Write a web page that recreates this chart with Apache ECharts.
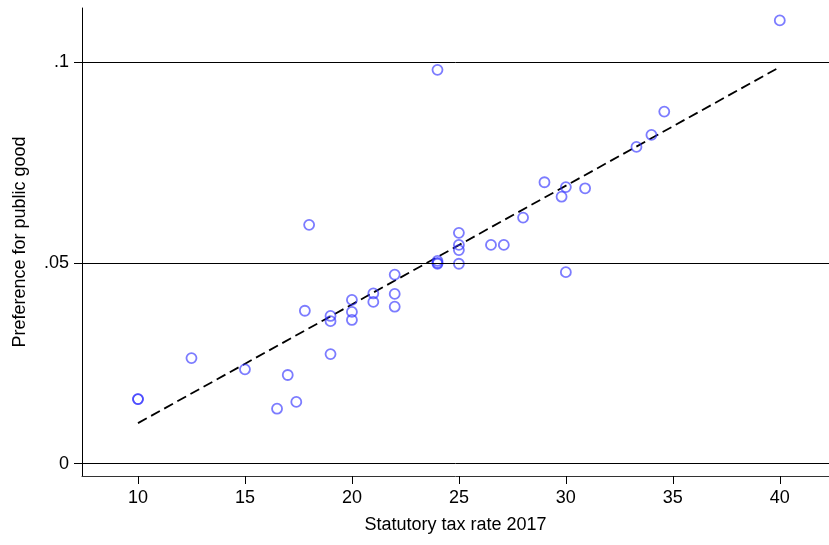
<!DOCTYPE html>
<html>
<head>
<meta charset="utf-8">
<script src="https://cdn.jsdelivr.net/npm/echarts@6/dist/echarts.min.js"></script>
<style>
html,body{margin:0;padding:0;background:#fff;}
#chart{width:829px;height:545px;}
</style>
</head>
<body>
<div id="chart"></div>
<script>
// Statutory tax rate 2017 (x) and preference for public good (y)
var taxRate = [10, 10, 12.5, 15, 16.5, 17, 17.4, 17.8, 18, 19, 19, 19, 20, 20, 20, 21, 21, 22, 22, 22,
               24, 24, 24, 24, 25, 25, 25, 25, 26.5, 27.1, 28, 29, 29.8, 30, 30, 30.9, 33.3, 34, 34.6, 40];
var preference = [0.0161, 0.0161, 0.0263, 0.0235, 0.0137, 0.0221, 0.0154, 0.0381, 0.0595, 0.0368, 0.0355, 0.0273,
                  0.0408, 0.0378, 0.0358, 0.0424, 0.0403, 0.0471, 0.0423, 0.0391,
                  0.0505, 0.0500, 0.0498, 0.0981, 0.0575, 0.0545, 0.0532, 0.0498, 0.0545, 0.0545, 0.0613,
                  0.0701, 0.0665, 0.0689, 0.0477, 0.0686, 0.0789, 0.0819, 0.0877, 0.1104];
// fitted line endpoints
var fitX = [10, 40];
var fitY = [0.0101, 0.0988];
// tick labels
var xTicks = [10, 15, 20, 25, 30, 35, 40];
var yTicks = [0, 0.05, 0.1];
var yTickLabels = ['0', '.05', '.1'];

var FONT = '"Liberation Sans", Arial, sans-serif';
var chart = echarts.init(document.getElementById('chart'), null, {renderer: 'canvas'});
var scatterData = taxRate.map(function (x, i) { return [x, preference[i]]; });
var fitData = fitX.map(function (x, i) { return [x, fitY[i]]; });

chart.setOption({
  animation: false,
  backgroundColor: '#fff',
  grid: {left: 82, top: 8, right: 0, bottom: 69, containLabel: false},
  xAxis: {
    type: 'value',
    min: 7.383, max: 42.3,
    name: 'Statutory tax rate 2017',
    nameLocation: 'middle',
    nameGap: 40,
    nameTextStyle: {fontFamily: FONT, fontSize: 18, color: '#000'},
    axisLine: {show: true, onZero: false, lineStyle: {color: '#333', width: 1}},
    axisTick: {show: true, length: 8, customValues: xTicks, lineStyle: {color: '#000'}},
    axisLabel: {customValues: xTicks, margin: 13, fontFamily: FONT, fontSize: 18, color: '#000'},
    splitLine: {show: false}
  },
  yAxis: {
    type: 'value',
    min: -0.00306, max: 0.1135,
    name: 'Preference for public good',
    nameLocation: 'middle',
    nameGap: 53,
    nameTextStyle: {fontFamily: FONT, fontSize: 18, color: '#000'},
    axisLine: {show: true, onZero: false, lineStyle: {color: '#000', width: 1}},
    axisTick: {show: true, length: 8, customValues: yTicks, lineStyle: {color: '#000'}},
    axisLabel: {
      customValues: yTicks, margin: 13, fontFamily: FONT, fontSize: 18, color: '#000',
      formatter: function (v) {
        var i = yTicks.indexOf(v);
        return i >= 0 ? yTickLabels[i] : '';
      }
    },
    splitLine: {show: false}
  },
  series: [
    {
      type: 'line',
      data: fitData,
      symbol: 'none',
      silent: true,
      lineStyle: {color: '#000', width: 1.8, type: [10, 5]},
      markLine: {
        silent: true,
        symbol: ['none', 'none'],
        label: {show: false},
        lineStyle: {color: '#000', width: 1, type: 'solid'},
        data: yTicks.map(function (v) { return {yAxis: v}; })
      },
      z: 3
    },
    {
      type: 'scatter',
      data: scatterData,
      symbol: 'circle',
      symbolSize: 10,
      itemStyle: {color: 'rgba(0,0,0,0)', borderColor: 'rgba(50,50,255,0.8)', borderWidth: 1.8},
      z: 4
    }
  ]
});
</script>
</body>
</html>
